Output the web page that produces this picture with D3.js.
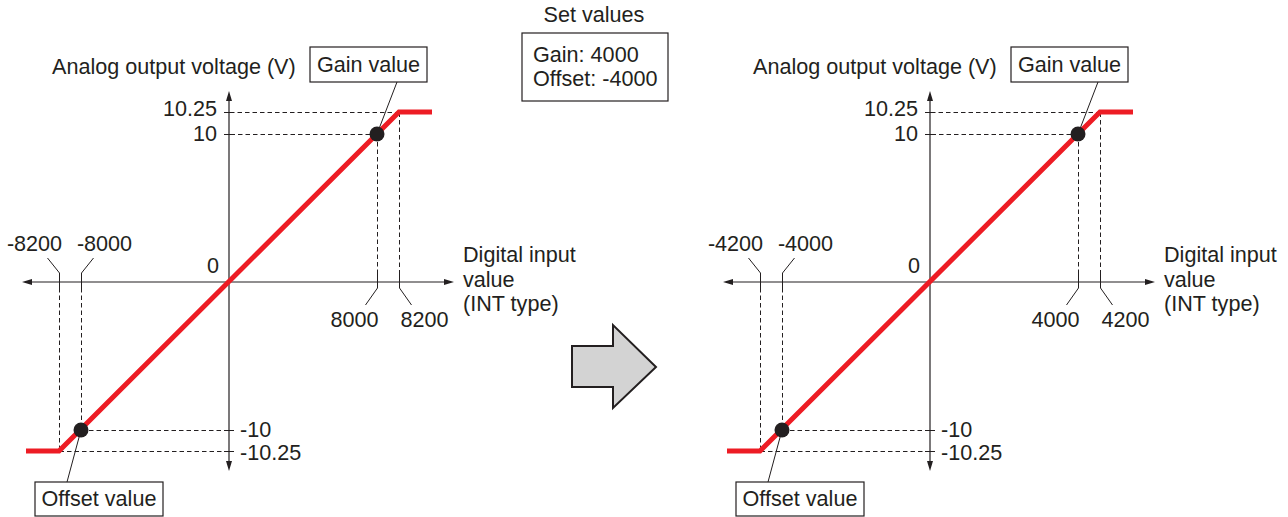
<!DOCTYPE html>
<html>
<head>
<meta charset="utf-8">
<script src="https://cdn.jsdelivr.net/npm/d3@7"></script>
<style>
  body { margin: 0; background: #fff; }
  text { font-family: "Liberation Sans", Arial, sans-serif; font-size: 21.6px; fill: #231f20; }
</style>
</head>
<body>
<script>
// valores de la gráfica
const yValues = [-10.25, -10, 0, 10, 10.25];
const yLabels = ["-10.25", "-10", "0", "10", "10.25"];

const leftXValues = [-8200, -8000, 0, 8000, 8200];
const rightXValues = [-4200, -4000, 0, 4000, 4200];

// salida analógica (con los tramos planos)
const leftLine = [[-8500, -10.25], [-8200, -10.25], [8200, 10.25], [8500, 10.25]];
const rightLine = [[-4500, -10.25], [-4200, -10.25], [4200, 10.25], [4500, 10.25]];

// gain, offset
const leftPoints = [[8000, 10], [-8000, -10]];
const rightPoints = [[4000, 10], [-4000, -10]];

const setValues = ["Gain: 4000", "Offset: -4000"];

const ink = "#231f20";
const red = "#ed1c24";

const svg = d3.select("body").append("svg").attr("width", 1288).attr("height", 517);

const oy = 282;

function drawPanel(ox, xValues, line, points) {
  const x = d3.scaleLinear().domain(xValues).range([ox - 170, ox - 148, ox, ox + 148, ox + 170]);
  const y = d3.scaleLinear().domain(yValues).range([oy + 169, oy + 148, oy, oy - 148, oy - 170]);
  const g = svg.append("g");

  // ejes con flechas
  g.append("line").attr("x1", ox - 204).attr("x2", ox + 222).attr("y1", oy).attr("y2", oy)
    .attr("stroke", ink).attr("stroke-width", 1.2);
  g.append("line").attr("x1", ox).attr("x2", ox).attr("y1", oy - 188).attr("y2", oy + 186)
    .attr("stroke", ink).attr("stroke-width", 1.2);
  const arrows = [
    [[ox + 225, oy], [ox + 215, oy - 3], [ox + 215, oy + 3]],
    [[ox - 207, oy], [ox - 197, oy - 3], [ox - 197, oy + 3]],
    [[ox, oy - 191], [ox - 3, oy - 181], [ox + 3, oy - 181]],
    [[ox, oy + 189], [ox - 3, oy + 179], [ox + 3, oy + 179]],
  ];
  g.selectAll(".arr").data(arrows).enter().append("path")
    .attr("d", (d) => d3.line()(d) + "Z").attr("fill", ink);

  // líneas punteadas y marcas
  xValues.forEach((v, i) => {
    if (v === 0) return;
    const yv = yValues[i];
    const px = Math.round(x(v)) + 0.5, py = Math.round(y(yv)) + 0.5;
    const outer = Math.abs(v) === d3.max(xValues);
    const dash = "4.5,3";
    // vertical
    g.append("line").attr("x1", px).attr("x2", px)
      .attr("y1", v > 0 ? py : oy + 6).attr("y2", v > 0 ? oy - 9 : py)
      .attr("stroke", ink).attr("stroke-dasharray", dash);
    // horizontal
    g.append("line").attr("x1", px).attr("x2", ox - 5 * Math.sign(v)).attr("y1", py).attr("y2", py)
      .attr("stroke", ink).attr("stroke-dasharray", dash);
    // marca sólida en el eje x
    g.append("line").attr("x1", px).attr("x2", px).attr("y1", oy - 9).attr("y2", oy + 6)
      .attr("stroke", ink);
    // guía a la etiqueta
    const dir = (outer ? 1 : -1) * Math.sign(v);
    const ly0 = v > 0 ? oy + 6 : oy - 9;
    const ly1 = v > 0 ? oy + 23 : oy - 24;
    g.append("line").attr("x1", px).attr("y1", ly0).attr("x2", px + dir * 12).attr("y2", ly1)
      .attr("stroke", ink);
    g.append("text").attr("x", px + dir * (outer ? 25 : 23)).attr("y", v > 0 ? oy + 45 : oy - 31)
      .attr("text-anchor", "middle").text(d3.format("d")(v).replace("−", "-"));
  });

  // marcas y etiquetas del eje y
  yValues.forEach((v, i) => {
    if (v === 0) {
      g.append("text").attr("x", ox - 10).attr("y", oy - 9).attr("text-anchor", "end").text(yLabels[i]);
      return;
    }
    const py = Math.round(y(v)) + 0.5;
    g.append("line").attr("x1", ox - 5).attr("x2", ox + 5).attr("y1", py).attr("y2", py)
      .attr("stroke", ink);
    const nudge = Math.abs(v) === 10.25 ? (v > 0 ? -3 : 2) : 0;
    g.append("text")
      .attr("x", v > 0 ? ox - 12 : ox + 11)
      .attr("y", y(v) + 7 + nudge)
      .attr("text-anchor", v > 0 ? "end" : "start")
      .text(yLabels[i]);
  });

  // línea roja
  g.append("path").datum(line)
    .attr("d", d3.line().x((d) => x(d[0])).y((d) => y(d[1])))
    .attr("fill", "none").attr("stroke", red).attr("stroke-width", 5).attr("stroke-linejoin", "miter");

  // cuadros de gain y offset
  const boxes = [
    { label: "Gain value", x0: ox + 81, x1: ox + 198, y0: 47, y1: 82, lx: ox + 168, ly: 82 },
    { label: "Offset value", x0: ox - 194, x1: ox - 66, y0: 482, y1: 516, lx: ox - 162, ly: 482 },
  ];
  boxes.forEach((b, i) => {
    const p = points[i];
    g.append("line").attr("x1", b.lx).attr("y1", b.ly).attr("x2", x(p[0])).attr("y2", y(p[1]))
      .attr("stroke", ink);
    g.append("rect").attr("x", b.x0).attr("y", b.y0).attr("width", b.x1 - b.x0).attr("height", b.y1 - b.y0)
      .attr("fill", "#fff").attr("stroke", ink).attr("stroke-width", 1.2);
    g.append("text").attr("x", (b.x0 + b.x1) / 2).attr("y", b.y1 - 10).attr("text-anchor", "middle").text(b.label);
  });

  g.selectAll(".pt").data(points).enter().append("circle")
    .attr("cx", (d) => x(d[0])).attr("cy", (d) => y(d[1])).attr("r", 7.5).attr("fill", ink);

  // títulos de ejes
  g.append("text").attr("x", ox - 177).attr("y", 74).text("Analog output voltage (V)");
  ["Digital input", "value", "(INT type)"].forEach((t, i) => {
    g.append("text").attr("x", ox + 234).attr("y", oy - 20 + i * 24.5).text(t);
  });
}

drawPanel(229, leftXValues, leftLine, leftPoints);
drawPanel(930, rightXValues, rightLine, rightPoints);

// valores fijados
svg.append("text").attr("x", 594).attr("y", 22).attr("text-anchor", "middle").text("Set values");
svg.append("rect").attr("x", 522).attr("y", 33).attr("width", 146).attr("height", 68)
  .attr("fill", "#fff").attr("stroke", ink).attr("stroke-width", 1.2);
svg.selectAll(".sv").data(setValues).enter().append("text")
  .attr("x", 533).attr("y", (_, i) => 62 + i * 24).text((d) => d);

// flecha gris
svg.append("path")
  .attr("d", "M572,346 L613,346 L613,325 L656,367 L613,408 L613,387 L572,387 Z")
  .attr("fill", "#d3d3d3").attr("stroke", ink).attr("stroke-width", 2).attr("stroke-linejoin", "miter");
</script>
</body>
</html>
